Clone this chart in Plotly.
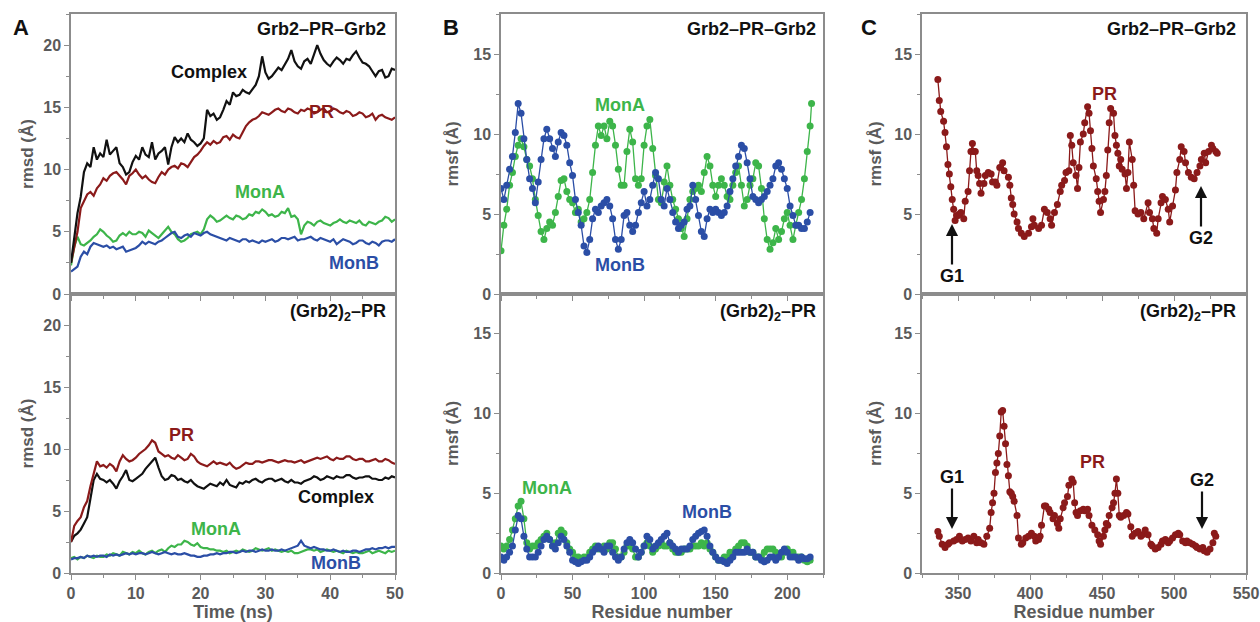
import plotly.graph_objects as go

# ---------------- DATA ----------------
time_ns = [i * 0.5 for i in range(101)]

rmsd_top_complex = [2.5, 4.5, 6.5, 7.8, 9.8, 10.5, 10.2, 11.8, 10.8, 11.3, 11.0, 12.4, 11.2, 11.5, 11.8, 10.5, 10.2, 9.6, 9.8, 10.6,
                    11.1, 10.8, 11.8, 11.2, 11.0, 12.2, 10.8, 11.3, 11.5, 11.8, 10.4, 11.8, 12.6, 12.2, 12.5, 12.2, 12.9, 12.4, 12.2, 11.9,
                    12.1, 12.5, 14.8, 14.3, 14.5, 14.0, 14.2, 14.8, 15.5, 15.2, 16.2, 15.9, 16.0, 16.4, 16.2, 16.1, 16.5, 16.8, 17.5, 19.1,
                    17.8, 17.3, 17.5, 17.9, 18.2, 18.0, 18.5, 18.9, 19.6, 18.7, 18.3, 18.1, 18.7, 18.9, 18.5, 19.2, 20.0, 19.3, 18.8, 18.5,
                    18.3, 18.7, 19.0, 18.8, 18.5, 18.9, 18.8, 19.2, 19.5, 19.0, 18.6, 18.5, 18.3, 17.9, 17.5, 17.9, 18.0, 17.4, 17.5, 18.1, 18.0]
rmsd_top_pr = [2.5, 3.8, 5.0, 6.9, 7.5, 8.0, 8.2, 7.9, 8.5, 8.8, 9.3, 9.1, 9.5, 9.7, 9.8, 9.5, 9.2, 8.8, 9.5, 9.7,
               10.0, 9.6, 9.3, 9.5, 9.2, 9.0, 8.9, 9.4, 9.8, 9.6, 10.0, 10.2, 10.3, 10.1, 10.5, 10.4, 10.2, 10.6, 11.0, 11.2,
               11.5, 11.9, 12.2, 12.0, 12.3, 12.1, 12.2, 12.6, 12.7, 12.4, 12.8, 12.6, 12.5, 13.0, 13.5, 13.8, 14.0, 14.1, 14.3, 14.6,
               14.5, 14.4, 14.6, 14.8, 14.9, 14.7, 14.6, 14.9, 14.8, 14.6, 14.5, 14.8, 14.7, 14.9, 14.8, 14.5, 14.6, 14.8, 14.9, 14.6,
               14.7, 14.9, 14.8, 14.6, 14.5, 14.7, 14.6, 14.3, 14.4, 14.6, 14.5, 14.2, 14.3, 14.5, 14.0, 14.3, 14.4, 14.2, 14.1, 14.0, 14.2]
rmsd_top_mona = [2.3, 3.8, 4.6, 4.0, 3.9, 4.1, 4.3, 4.6, 4.8, 5.2, 5.0, 4.7, 4.5, 4.2, 4.3, 4.7, 4.9, 4.7, 5.0, 4.8,
                 4.8, 5.0, 4.9, 4.6, 5.1, 4.9, 4.7, 4.5, 4.8, 5.1, 5.4, 5.0, 4.8, 4.4, 4.2, 4.3, 4.5, 4.8, 4.9, 5.0,
                 4.8, 5.2, 6.0, 6.3, 6.1, 5.8, 5.9, 6.1, 6.3, 6.1, 6.0, 6.3, 6.2, 6.0, 6.1, 6.4, 6.3, 6.6, 6.5, 6.8,
                 6.6, 6.3, 6.4, 6.2, 6.3, 6.6, 6.5, 6.9, 6.2, 6.3, 6.0, 4.8, 5.5, 5.8, 5.7, 5.5, 5.8, 5.9, 5.7, 5.6,
                 5.5, 5.7, 5.8, 6.0, 5.8, 5.7, 5.9, 5.8, 5.7, 5.9, 5.6, 5.5, 5.8, 5.7, 5.6, 5.8, 5.9, 6.2, 6.1, 5.8, 6.0]
rmsd_top_monb = [1.8, 2.0, 2.2, 3.0, 3.4, 3.2, 3.8, 4.1, 4.0, 3.9, 3.8, 3.9, 3.7, 3.8, 3.6, 3.7, 3.8, 3.4, 3.5, 3.6,
                 3.7, 3.9, 4.2, 4.0, 4.2, 4.1, 4.0, 4.2, 4.3, 4.5, 4.7, 4.9, 5.0, 4.6, 4.5, 4.7, 4.8, 4.6, 4.9, 4.8,
                 4.7, 4.9, 5.0, 4.8, 4.7, 4.6, 4.5, 4.4, 4.3, 4.5, 4.4, 4.3, 4.2, 4.4, 4.4, 4.2, 4.3, 4.2, 4.1, 4.3,
                 4.2, 4.3, 4.4, 4.2, 4.3, 4.5, 4.5, 4.4, 4.5, 4.6, 4.3, 4.4, 4.4, 4.5, 4.6, 4.4, 4.3, 4.5, 4.4, 4.3,
                 4.2, 4.4, 4.0, 4.2, 4.4, 4.3, 4.2, 4.0, 4.1, 4.3, 4.3, 4.1, 4.0, 4.2, 4.1, 3.9, 4.2, 4.3, 4.3, 4.2, 4.4]

rmsd_bot_pr = [2.5, 3.8, 4.2, 4.5, 5.3, 5.8, 7.0, 8.0, 9.0, 8.6, 8.7, 8.5, 8.8, 8.6, 8.2, 9.0, 9.5, 9.2, 9.0, 9.1,
               9.3, 9.6, 9.8, 10.0, 10.3, 10.7, 10.5, 9.8, 9.6, 9.4, 9.5, 9.3, 9.2, 9.5, 9.3, 9.1, 9.2, 9.6, 9.4, 9.0,
               8.8, 8.7, 8.6, 8.8, 9.0, 8.8, 8.9, 8.8, 8.7, 8.9, 8.6, 8.4, 8.5, 8.7, 8.9, 8.8, 8.8, 9.0, 9.0, 8.9,
               9.0, 9.1, 9.1, 9.0, 8.9, 9.0, 9.1, 9.0, 9.0, 8.9, 9.0, 9.1, 8.9, 9.0, 9.1, 9.2, 9.3, 9.2, 9.3, 9.4,
               9.2, 9.1, 9.3, 9.2, 9.2, 9.4, 9.4, 9.2, 9.1, 9.2, 9.2, 9.0, 9.0, 9.1, 9.2, 9.0, 9.0, 9.2, 9.1, 8.9, 8.8]
rmsd_bot_complex = [2.5, 3.0, 3.2, 3.5, 4.0, 4.5, 6.0, 7.5, 8.0, 7.6, 7.5, 7.3, 7.5, 7.2, 6.8, 7.4, 7.8, 8.3, 7.5, 7.4,
                    7.6, 7.8, 8.0, 8.4, 8.7, 9.0, 9.3, 8.5, 7.8, 7.5, 7.6, 7.9, 7.8, 7.5, 7.6, 7.4, 7.3, 7.5, 7.2, 7.0,
                    6.9, 6.8, 7.0, 7.2, 7.1, 7.0, 7.3, 7.1, 7.5, 7.1, 7.0, 6.9, 7.3, 7.2, 7.4, 7.3, 7.5, 7.6, 7.4, 7.3,
                    7.5, 7.6, 7.6, 7.4, 7.5, 7.6, 7.4, 7.3, 7.5, 7.3, 7.3, 7.2, 7.4, 7.5, 7.6, 7.8, 7.7, 7.5, 7.6, 7.8,
                    7.7, 7.6, 7.8, 7.7, 7.7, 7.9, 7.9, 7.7, 7.6, 7.7, 7.7, 7.8, 7.8, 7.6, 7.6, 7.5, 7.5, 7.7, 7.6, 7.8, 7.7]
rmsd_bot_mona = [1.2, 1.3, 1.1, 1.3, 1.2, 1.4, 1.3, 1.2, 1.4, 1.3, 1.3, 1.5, 1.4, 1.6, 1.5, 1.4, 1.7, 1.6, 1.5, 1.7,
                 1.6, 1.8, 1.6, 1.5, 1.7, 1.8, 1.6, 1.8, 1.9, 1.7, 2.0, 2.2, 2.1, 2.3, 2.3, 2.6, 2.5, 2.3, 2.2, 2.4,
                 2.1, 2.0, 2.0, 1.9, 1.9, 1.8, 1.8, 1.7, 1.8, 1.6, 1.7, 1.8, 1.7, 1.9, 1.8, 1.7, 1.8, 2.0, 1.9, 1.8,
                 1.9, 2.0, 1.8, 1.9, 1.8, 1.7, 1.8, 1.7, 1.8, 1.6, 1.6, 1.7, 1.8, 1.9, 1.9, 1.8, 1.9, 1.7, 1.8, 1.9,
                 1.8, 1.7, 1.8, 1.7, 1.6, 1.8, 1.7, 1.6, 1.7, 1.6, 1.6, 1.7, 1.8, 1.6, 1.7, 1.8, 1.7, 1.6, 1.8, 1.7, 1.8]
rmsd_bot_monb = [1.1, 1.2, 1.2, 1.3, 1.2, 1.4, 1.3, 1.4, 1.3, 1.4, 1.4, 1.3, 1.5, 1.4, 1.5, 1.4, 1.5, 1.6, 1.5, 1.6,
                 1.5, 1.6, 1.6, 1.5, 1.6, 1.7, 1.6, 1.5, 1.6, 1.7, 1.6, 1.5, 1.6, 1.5, 1.5, 1.6, 1.5, 1.4, 1.4, 1.3,
                 1.3, 1.4, 1.4, 1.5, 1.5, 1.6, 1.5, 1.6, 1.6, 1.7, 1.7, 1.6, 1.7, 1.8, 1.7, 1.8, 1.8, 1.7, 1.8, 1.9,
                 1.8, 1.8, 1.9, 1.8, 1.8, 1.9, 1.8, 1.9, 2.0, 2.1, 2.2, 2.6, 2.2, 2.1, 2.0, 2.1, 2.0, 1.9, 1.9, 1.8,
                 1.8, 1.9, 1.8, 1.7, 1.8, 1.7, 1.7, 1.8, 1.8, 1.7, 1.8, 1.9, 1.9, 2.0, 1.9, 2.0, 2.0, 2.1, 2.0, 2.1, 2.1]

res_b = list(range(0, 218, 2))
res_b_mona_top = res_b + [217]
rmsf_top_mona = [2.7, 4.3, 5.3, 6.8, 7.6, 8.6, 9.3, 9.7, 9.2, 8.4,
                 8.0, 7.2, 5.9, 4.9, 3.9, 3.4, 4.1, 4.5, 4.3, 5.1,
                 6.1, 7.1, 7.2, 6.4, 5.9, 5.7, 5.1, 5.3, 4.5, 4.7,
                 5.1, 5.9, 7.6, 9.3, 10.5, 9.9, 10.5, 9.7, 10.8, 10.5,
                 9.3, 7.8, 6.8, 6.8, 8.9, 10.3, 9.5, 7.2, 6.8, 7.2,
                 9.3, 10.5, 10.9, 9.1, 7.4, 5.9, 5.7, 7.0, 8.0, 6.8,
                 5.9, 5.3, 4.7, 4.1, 3.6, 4.7, 5.9, 6.4, 6.6, 6.8,
                 6.4, 7.6, 8.6, 8.0, 6.8, 6.1, 6.8, 7.2, 6.8, 6.1,
                 5.9, 6.8, 7.6, 8.0, 6.8, 5.5, 5.9, 6.8, 7.2, 8.2,
                 8.0, 6.6, 4.7, 3.4, 2.8, 3.2, 4.1, 3.4, 3.9, 4.7,
                 5.1, 4.3, 3.4, 4.3, 5.1, 5.9, 7.2, 8.9, 10.5, 11.9]
rmsf_top_monb = [6.6, 5.9, 6.8, 7.8, 8.6, 10.1, 11.9, 11.3, 9.7, 8.4,
                 7.2, 6.6, 5.7, 7.0, 8.4, 9.7, 10.3, 9.7, 9.1, 8.6,
                 9.5, 10.1, 9.9, 9.3, 8.2, 7.4, 5.9, 5.1, 4.3, 3.0,
                 2.6, 3.4, 4.7, 5.3, 5.1, 5.5, 5.7, 5.9, 5.5, 4.7,
                 3.4, 2.8, 3.4, 4.9, 5.1, 4.3, 3.9, 4.3, 5.1, 5.7,
                 6.4, 5.5, 5.9, 6.8, 7.6, 7.2, 5.9, 5.5, 6.6, 5.9,
                 5.1, 4.5, 4.1, 4.3, 4.5, 5.3, 5.5, 6.8, 5.9, 4.9,
                 3.9, 3.6, 4.7, 5.3, 5.1, 5.3, 5.1, 4.9, 5.1, 5.5,
                 6.4, 7.2, 8.0, 8.6, 9.3, 9.1, 8.2, 7.2, 6.1, 5.9,
                 5.7, 5.9, 6.1, 6.4, 6.8, 7.2, 8.0, 8.2, 7.8, 7.2,
                 6.6, 5.5, 4.9, 4.3, 4.3, 4.1, 4.1, 4.5, 5.1]
rmsf_bot_mona = [1.7, 1.5, 1.7, 2.1, 2.7, 3.4, 4.2, 4.5, 3.4, 1.9,
                 1.5, 1.7, 1.7, 1.9, 2.1, 2.3, 2.5, 2.1, 1.7, 1.9,
                 2.5, 2.7, 2.5, 1.9, 1.5, 1.3, 1.0, 1.0, 0.8, 1.0,
                 1.0, 1.3, 1.5, 1.7, 1.5, 1.5, 1.7, 1.5, 1.9, 1.9,
                 1.5, 1.0, 1.0, 1.3, 1.7, 1.7, 1.5, 1.0, 1.0, 1.3,
                 1.7, 1.9, 1.7, 1.3, 1.5, 1.7, 1.9, 1.7, 1.7, 1.9,
                 1.5, 1.3, 1.3, 1.3, 1.5, 1.5, 1.5, 1.7, 1.7, 1.7,
                 1.9, 1.7, 1.9, 1.5, 1.3, 1.0, 0.8, 0.8, 1.0, 1.0,
                 1.3, 1.3, 1.5, 1.7, 1.9, 1.9, 1.7, 1.3, 1.3, 1.0,
                 1.0, 1.0, 1.3, 1.5, 1.5, 1.5, 1.3, 1.0, 1.0, 1.3,
                 1.5, 1.3, 1.3, 1.0, 1.0, 1.0, 0.8, 0.7, 0.8]
rmsf_bot_monb = [1.0, 0.8, 1.0, 1.3, 1.7, 2.7, 3.6, 3.4, 2.3, 1.5,
                 1.0, 1.0, 1.0, 1.3, 1.7, 2.1, 2.3, 2.1, 1.7, 1.5,
                 1.9, 2.3, 2.1, 1.7, 1.3, 0.8, 0.7, 0.6, 0.7, 0.8,
                 0.8, 1.0, 1.3, 1.5, 1.7, 1.5, 1.3, 1.7, 1.7, 1.3,
                 1.0, 0.8, 1.0, 1.5, 1.9, 2.1, 1.9, 1.5, 1.0, 1.3,
                 1.7, 2.3, 2.1, 1.5, 1.7, 1.9, 2.1, 2.3, 2.5, 1.9,
                 1.7, 1.5, 1.3, 1.5, 1.5, 1.5, 1.7, 2.1, 2.3, 2.5,
                 2.6, 2.7, 2.3, 1.7, 1.3, 1.0, 0.8, 0.8, 0.7, 0.6,
                 0.8, 1.0, 1.3, 1.3, 1.3, 1.3, 1.5, 1.3, 1.3, 1.0,
                 1.0, 0.8, 0.7, 0.8, 1.0, 1.0, 0.8, 1.0, 1.3, 1.5,
                 1.3, 1.0, 1.0, 1.0, 0.8, 1.0, 0.9, 0.9, 1.0]

res_c_top = [336, 337, 338, 340, 341, 342, 343, 344, 345, 346, 347, 348, 349, 350, 351, 352, 354, 355, 357, 358,
             359, 360, 361, 362, 363, 364, 365, 366, 368, 369, 371, 373, 374, 376, 377, 379, 381, 382, 385, 386,
             387, 388, 389, 391, 392, 394, 396, 399, 401, 402, 403, 406, 408, 410, 412, 414, 415, 417, 419, 421,
             422, 424, 425, 427, 428, 429, 430, 432, 433, 434, 435, 437, 438, 440, 441, 442, 443, 444, 446, 447,
             448, 449, 451, 452, 453, 454, 455, 456, 458, 459, 460, 461, 462, 463, 464, 466, 467, 468, 469, 471,
             472, 473, 475, 477, 479, 482, 483, 485, 486, 488, 489, 491, 492, 494, 496, 497, 499, 501, 502, 504,
             505, 507, 508, 510, 512, 514, 516, 518, 519, 521, 522, 524, 526, 527, 529, 530]
rmsf_c_top = [13.4, 12.1, 11.4, 10.8, 10.1, 9.2, 8.1, 7.5, 6.7, 5.9, 5.3, 4.6, 4.9, 4.9, 5.0, 5.1, 4.7, 5.8, 6.4, 7.7,
              8.9, 9.4, 8.9, 8.9, 7.7, 7.4, 6.9, 6.3, 6.9, 7.4, 7.6, 7.5, 7.0, 7.0, 6.8, 7.9, 8.2, 7.7, 7.3, 6.8,
              6.0, 5.6, 5.0, 4.5, 4.1, 3.8, 3.6, 3.8, 4.2, 4.7, 4.3, 4.1, 4.3, 5.3, 5.1, 4.7, 4.3, 5.1, 5.6, 6.4,
              6.8, 7.1, 7.6, 7.7, 9.9, 9.3, 8.2, 7.4, 6.6, 7.9, 9.5, 10.0, 10.7, 11.7, 11.3, 10.2, 9.1, 8.0, 7.2, 6.4,
              5.8, 5.1, 5.9, 6.4, 7.4, 9.0, 10.7, 11.6, 11.3, 9.9, 9.3, 8.8, 8.0, 8.4, 7.8, 7.5, 6.6, 7.6, 9.5, 8.4,
              6.8, 5.2, 5.0, 5.1, 4.7, 5.7, 5.1, 4.7, 4.1, 3.8, 4.7, 5.7, 6.1, 5.9, 5.3, 4.5, 5.5, 6.5, 7.6, 8.4,
              9.2, 8.9, 8.2, 7.6, 7.3, 7.2, 7.6, 8.0, 8.4, 8.8, 8.2, 8.9, 9.3, 9.1, 8.9, 8.8]

res_c_bot = [336, 337, 339, 341, 343, 344, 347, 349, 351, 353, 355, 357, 359, 361, 363, 364, 366, 368, 370, 372,
             373, 374, 375, 376, 377, 378, 379, 380, 381, 382, 383, 384, 385, 386, 387, 388, 389, 391, 392, 394,
             395, 397, 399, 401, 403, 404, 406, 407, 408, 410, 411, 413, 414, 416, 417, 419, 420, 421, 423, 424,
             426, 427, 429, 430, 431, 432, 433, 435, 437, 438, 440, 441, 443, 445, 447, 448, 449, 451, 452, 453,
             454, 455, 457, 458, 459, 460, 461, 462, 463, 465, 467, 468, 470, 471, 473, 475, 477, 478, 480, 482,
             484, 485, 487, 489, 491, 492, 494, 496, 497, 499, 501, 503, 504, 506, 508, 509, 511, 513, 515, 516,
             518, 520, 521, 523, 525, 527, 528, 529]
rmsf_c_bot = [2.6, 2.3, 1.8, 1.6, 1.8, 1.9, 2.0, 2.1, 2.3, 2.0, 2.1, 2.2, 2.0, 2.3, 1.9, 2.1, 1.9, 1.8, 2.3, 2.8,
              3.8, 4.4, 5.0, 6.3, 6.9, 7.5, 8.6, 10.1, 10.2, 9.2, 8.1, 6.8, 6.1, 5.1, 5.0, 4.8, 4.5, 3.6, 2.2, 1.8,
              1.9, 2.2, 2.3, 2.5, 2.3, 2.0, 2.1, 2.3, 3.0, 4.2, 4.2, 4.0, 3.8, 3.4, 3.6, 3.1, 2.8, 3.4, 4.1, 4.4,
              4.8, 5.5, 5.9, 5.7, 4.4, 3.8, 3.6, 3.9, 4.0, 3.9, 4.0, 3.6, 3.0, 2.7, 2.4, 2.0, 1.8, 2.3, 2.7, 3.1,
              3.0, 3.6, 4.1, 4.4, 5.0, 5.9, 5.0, 3.6, 3.5, 3.6, 3.8, 3.7, 2.9, 2.3, 2.5, 2.6, 2.3, 2.4, 2.7, 2.4,
              1.8, 1.7, 1.5, 1.6, 1.8, 2.0, 2.1, 1.9, 2.0, 2.2, 2.4, 2.5, 2.4, 2.0, 1.9, 2.0, 1.9, 1.8, 1.7, 1.6,
              1.5, 1.6, 1.4, 1.3, 1.5, 1.9, 2.5, 2.3]

# ---------------- STYLE ----------------
W, H = 1260, 622
BLACK = "#111111"
RED = "#8b1a1a"
GREEN = "#3db54a"
BLUE = "#2b4ea6"
AXC = "#8c8c8c"
TXT = "#5a5a5a"
FONT = "Liberation Sans, Arial, sans-serif"


def px(x):
    return x / W


def py(y):
    return 1 - y / H


fig = go.Figure()


def line(x, y, color, ax, width=2.2):
    fig.add_trace(go.Scatter(x=x, y=y, mode="lines", line=dict(color=color, width=width),
                             xaxis=ax[0], yaxis=ax[1], showlegend=False, hoverinfo="skip"))


def dots(x, y, color, ax, size=7):
    fig.add_trace(go.Scatter(x=x, y=y, mode="lines+markers", line=dict(color=color, width=1.3),
                             marker=dict(color=color, size=size), xaxis=ax[0], yaxis=ax[1],
                             showlegend=False, hoverinfo="skip"))


# Panel A
line(time_ns, rmsd_top_mona, GREEN, ("x", "y"))
line(time_ns, rmsd_top_monb, BLUE, ("x", "y"))
line(time_ns, rmsd_top_pr, RED, ("x", "y"))
line(time_ns, rmsd_top_complex, BLACK, ("x", "y"))
line(time_ns, rmsd_bot_mona, GREEN, ("x2", "y2"))
line(time_ns, rmsd_bot_monb, BLUE, ("x2", "y2"))
line(time_ns, rmsd_bot_complex, BLACK, ("x2", "y2"))
line(time_ns, rmsd_bot_pr, RED, ("x2", "y2"))
# Panel B
dots(res_b_mona_top, rmsf_top_mona, GREEN, ("x3", "y3"))
dots(res_b, rmsf_top_monb, BLUE, ("x3", "y3"))
dots(res_b, rmsf_bot_mona, GREEN, ("x4", "y4"))
dots(res_b, rmsf_bot_monb, BLUE, ("x4", "y4"))
# Panel C
dots(res_c_top, rmsf_c_top, RED, ("x5", "y5"))
dots(res_c_bot, rmsf_c_bot, RED, ("x6", "y6"))

dom_x = {"A": [px(71), px(395)], "B": [px(501), px(823)], "C": [px(922), px(1246)]}
dom_top = [py(294), py(14)]
dom_bot = [py(573), py(294)]

tickfont = dict(family=FONT, size=16, color=TXT, weight="bold")
titlefont = dict(family=FONT, size=17, color=TXT, weight="bold")


def xax(domain, anchor, rng, dtick, minor, labels, tick0=0, title=None):
    d = dict(domain=domain, anchor=anchor, range=rng, dtick=dtick, tick0=tick0, automargin=False,
             showline=True, mirror=True, linecolor=AXC, linewidth=1.5,
             ticks="outside", ticklen=5, tickwidth=1.2, tickcolor=AXC,
             minor=dict(ticks="outside", ticklen=3, dtick=minor, tick0=tick0, tickcolor=AXC),
             showgrid=False, zeroline=False, showticklabels=labels, tickfont=tickfont)
    if title:
        d["title"] = dict(text=title, font=dict(family=FONT, size=18, color=TXT, weight="bold"), standoff=6)
    return d


def yax(domain, anchor, rng, title, standoff):
    return dict(domain=domain, anchor=anchor, range=rng, dtick=5, tick0=0, automargin=False,
                showline=True, mirror=True, linecolor=AXC, linewidth=1.5,
                ticks="outside", ticklen=5, tickwidth=1.2, tickcolor=AXC,
                minor=dict(ticks="outside", ticklen=3, dtick=2.5, tickcolor=AXC),
                showgrid=False, zeroline=False, tickfont=tickfont,
                title=dict(text=title, font=titlefont, standoff=standoff))


fig.update_layout(
    width=W, height=H, autosize=False,
    margin=dict(l=0, r=0, t=0, b=0),
    paper_bgcolor="white", plot_bgcolor="white",
    xaxis=xax(dom_x["A"], "y", [0, 50], 10, 5, False),
    yaxis=yax(dom_top, "x", [0, 22.5], "rmsd (Å)", 5),
    xaxis2=xax(dom_x["A"], "y2", [0, 50], 10, 5, True, title="Time (ns)"),
    yaxis2=yax(dom_bot, "x2", [0, 22.5], "rmsd (Å)", 5),
    xaxis3=xax(dom_x["B"], "y3", [0, 225], 50, 25, False),
    yaxis3=yax(dom_top, "x3", [0, 17.5], "rmsf (Å)", 10),
    xaxis4=xax(dom_x["B"], "y4", [0, 225], 50, 25, True, title="Residue number"),
    yaxis4=yax(dom_bot, "x4", [0, 17.5], "rmsf (Å)", 10),
    xaxis5=xax(dom_x["C"], "y5", [325, 550], 50, 25, False, tick0=350),
    yaxis5=yax(dom_top, "x5", [0, 17.5], "rmsf (Å)", 8),
    xaxis6=xax(dom_x["C"], "y6", [325, 550], 50, 25, True, tick0=350, title="Residue number"),
    yaxis6=yax(dom_bot, "x6", [0, 17.5], "rmsf (Å)", 8),
)

ann = []


def label(x, y, text, color=BLACK, size=18, xanchor="center"):
    ann.append(dict(x=px(x), y=py(y), xref="paper", yref="paper", text=text, showarrow=False,
                    xanchor=xanchor, yanchor="middle",
                    font=dict(family=FONT, size=size, color=color, weight="bold")))


def arrow_label(x, y_head, y_text, text):
    # arrow pointing at (x, y_head) with its label centred at (x, y_text)
    ann.append(dict(x=px(x), y=py(y_head), xref="paper", yref="paper", text=text,
                    showarrow=True, ax=0, ay=y_text - y_head, arrowhead=2, arrowsize=1.1,
                    arrowwidth=2.2, arrowcolor=BLACK, standoff=0, startstandoff=0,
                    font=dict(family=FONT, size=18, color=BLACK, weight="bold")))


# panel letters
label(11, 27, "A", size=22, xanchor="left")
label(441, 27, "B", size=22, xanchor="left")
label(859, 27, "C", size=22, xanchor="left")
# titles
label(388, 29, "Grb2–PR–Grb2", xanchor="right", size=18)
label(818, 29, "Grb2–PR–Grb2", xanchor="right", size=18)
label(1238, 29, "Grb2–PR–Grb2", xanchor="right", size=18)
label(388, 312, "(Grb2)<sub>2</sub>–PR", xanchor="right", size=18)
label(818, 312, "(Grb2)<sub>2</sub>–PR", xanchor="right", size=18)
label(1238, 312, "(Grb2)<sub>2</sub>–PR", xanchor="right", size=18)
# A labels
label(209, 72, "Complex")
label(321, 112, "PR", RED)
label(260, 192, "MonA", GREEN)
label(354, 263, "MonB", BLUE)
label(181, 435, "PR", RED)
label(336, 497, "Complex")
label(216, 529, "MonA", GREEN)
label(336, 563, "MonB", BLUE)
# B labels
label(620, 105, "MonA", GREEN)
label(620, 265, "MonB", BLUE)
label(547, 488, "MonA", GREEN)
label(707, 512, "MonB", BLUE)
# C labels
label(1104, 94, "PR", RED)
label(1092, 462, "PR", RED)
arrow_label(952, 224, 276, "G1")
arrow_label(1201, 186, 238, "G2")
arrow_label(952, 529, 477, "G1")
arrow_label(1202, 529, 480, "G2")

fig.update_layout(annotations=ann)
fig.write_html("out.html", config={"displayModeBar": False},
               post_script="document.body.style.margin='0';document.body.style.overflow='hidden';")
